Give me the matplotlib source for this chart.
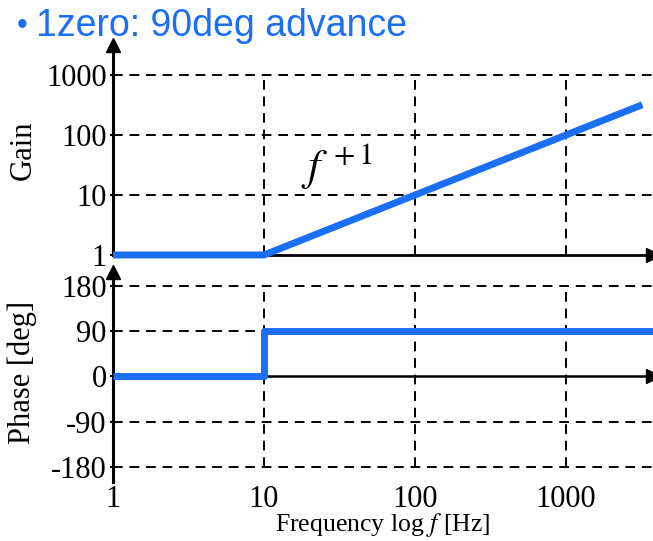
import matplotlib
matplotlib.use("Agg")
import matplotlib.pyplot as plt
import numpy as np

plt.rcParams['font.family'] = ['Liberation Serif', 'DejaVu Serif']
plt.rcParams['mathtext.fontset'] = 'stix'

# asymptotic Bode plot of one zero at 10 Hz
corner = 10
f_end = 3200
gain_freq = [1, corner, f_end]
gain_vals = [1, 1, f_end / corner]
phase_freq = [1, corner, corner, 3800]
phase_vals = [0, 0, 90, 90]

freq_ticks = [1, 10, 100, 1000]
freq_labels = ['1', '10', '100', '1000']
gain_ticks = [1, 10, 100, 1000]
gain_labels = ['1', '10', '100', '1000']
phase_ticks = [-180, -90, 0, 90, 180]
phase_labels = ['-180', '-90', '0', '90', '180']

blue = '#1a6ff5'
xmax = 10 ** 3.576

fig = plt.figure(figsize=(6.53, 5.41), dpi=100)
ax_g = fig.add_axes([0.173, 0.5287, 0.827, 0.388])
ax_p = fig.add_axes([0.173, 0.109, 0.827, 0.388])

dash = (0, (5, 3.5))

# --- gain panel ---
ax_g.set_xscale('log')
ax_g.set_yscale('log')
ax_g.set_xlim(1, xmax)
ax_g.set_ylim(1, 10 ** 3.5)
ax_g.hlines([10, 100, 1000], 1, xmax, colors='k', linestyles=dash, lw=1.4)
ax_g.vlines([10, 100, 1000], 1, 1000, colors='k', linestyles=dash, lw=1.4)
ax_g.plot(gain_freq, gain_vals, color=blue, lw=5, solid_capstyle='butt', zorder=5,
          clip_on=False)
ax_g.text(17.5, 17.5, r'$f^{\,+1}$', fontsize=32)
ax_g.set_yticks(gain_ticks, gain_labels, fontsize=22)
ax_g.minorticks_off()
ax_g.set_xticks([])
ax_g.set_ylabel('Gain', fontsize=22)
ax_g.yaxis.set_label_coords(-0.14, 0.5)

# --- phase panel ---
ax_p.set_xscale('log')
ax_p.set_xlim(1, xmax)
ax_p.set_ylim(-210, 207)
ax_p.hlines([-180, -90, 90, 180], 1, xmax, colors='k', linestyles=dash, lw=1.4)
ax_p.vlines([10, 100, 1000], -180, 180, colors='k', linestyles=dash, lw=1.4)
ax_p.axhline(0, color='k', lw=1.8, zorder=3)
ax_p.plot(phase_freq, phase_vals, color=blue, lw=5, solid_capstyle='butt', zorder=5)
ax_p.set_yticks(phase_ticks, phase_labels, fontsize=22)
ax_p.set_xticks(freq_ticks, freq_labels, fontsize=22)
ax_p.minorticks_off()
ax_p.tick_params(axis='x', length=0, pad=2)
ax_p.set_ylabel('Phase [deg]', fontsize=22)
ax_p.yaxis.set_label_coords(-0.14, 0.52)
ax_p.set_xlabel('Frequency log $f$ [Hz]', fontsize=18.5, labelpad=-2)

for ax in (ax_g, ax_p):
    for side in ('top', 'right'):
        ax.spines[side].set_visible(False)
    ax.spines['left'].set_linewidth(2.2)
    ax.tick_params(axis='y', length=5, width=1.5, direction='inout', pad=2)
    # arrow heads on the axes
    ax.plot(0, 1, '^', color='k', ms=10, transform=ax.transAxes, clip_on=False, zorder=6)
ax_g.spines['bottom'].set_linewidth(2.0)
ax_p.spines['bottom'].set_visible(False)
ax_g.plot(1, 0, '>', color='k', ms=10, transform=ax_g.transAxes, clip_on=False, zorder=6)
ax_p.plot(1, 0, '>', color='k', ms=10, transform=ax_p.get_yaxis_transform(),
          clip_on=False, zorder=6)

# heading
fig.text(0.026, 0.937, '\u2022', fontsize=22, color=blue, family='Liberation Sans',
         va='baseline')
fig.text(0.055, 0.933, '1zero: 90deg advance', fontsize=27, color=blue,
         family='Liberation Sans', va='baseline')

fig.savefig('out.png', dpi=100)
